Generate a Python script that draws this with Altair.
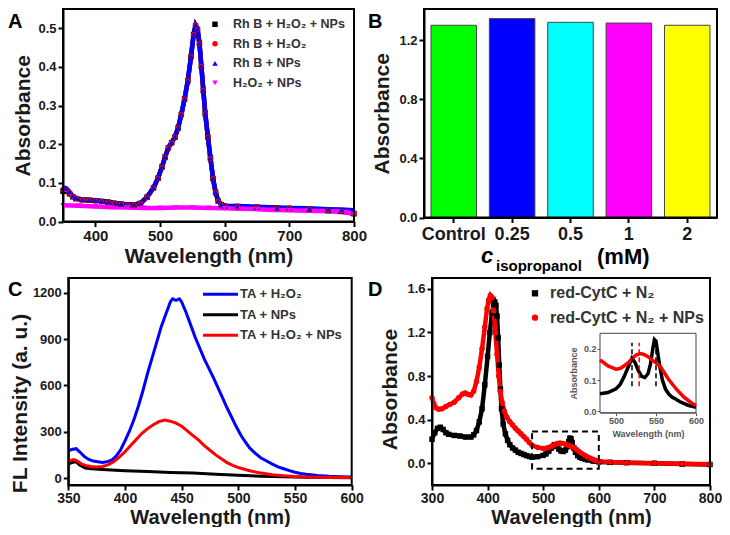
import altair as alt
import pandas as pd

W, H = 714, 519
FONT = "Liberation Sans"

# ---------------- Panel A : Rh B absorbance ----------------
a_wl = [350, 355, 360, 365, 370, 380, 390, 400, 410, 420, 430, 440, 450, 460, 470, 480, 490,
        497, 503, 508, 513, 518, 523, 528, 533, 538, 543, 548, 552, 555, 558, 561, 564, 567,
        570, 574, 578, 582, 586, 590, 595, 600, 620, 650, 680, 700, 730, 760, 780, 800]
a_black = [0.078, 0.080, 0.072, 0.064, 0.059, 0.056, 0.055, 0.054, 0.052, 0.050, 0.047, 0.045, 0.043,
           0.043, 0.047, 0.063, 0.087, 0.112, 0.141, 0.167, 0.191, 0.204, 0.218, 0.242, 0.277, 0.317,
           0.364, 0.427, 0.484, 0.506, 0.497, 0.461, 0.401, 0.339, 0.279, 0.219, 0.164, 0.111, 0.075,
           0.053, 0.043, 0.040, 0.039, 0.037, 0.035, 0.034, 0.032, 0.028, 0.026, 0.020]
a_red = [0.082, 0.083, 0.074, 0.065, 0.060, 0.056, 0.055, 0.054, 0.052, 0.050, 0.047, 0.045, 0.043,
         0.043, 0.047, 0.063, 0.087, 0.112, 0.141, 0.167, 0.191, 0.204, 0.218, 0.242, 0.277, 0.317,
         0.364, 0.427, 0.484, 0.507, 0.497, 0.461, 0.401, 0.339, 0.279, 0.219, 0.164, 0.111, 0.075,
         0.053, 0.043, 0.040, 0.039, 0.037, 0.035, 0.034, 0.033, 0.029, 0.027, 0.021]
a_blue = [0.088, 0.086, 0.077, 0.066, 0.061, 0.057, 0.056, 0.055, 0.053, 0.051, 0.048, 0.046, 0.044,
          0.044, 0.048, 0.064, 0.088, 0.113, 0.142, 0.168, 0.192, 0.205, 0.219, 0.243, 0.278, 0.318,
          0.365, 0.428, 0.485, 0.508, 0.498, 0.462, 0.402, 0.340, 0.280, 0.220, 0.165, 0.112, 0.076,
          0.054, 0.044, 0.041, 0.040, 0.038, 0.036, 0.035, 0.034, 0.032, 0.031, 0.029]
a_mag_wl = [350, 375, 400, 425, 450, 475, 500, 525, 550, 575, 600, 625, 650, 675, 700, 725, 750, 775, 790, 800]
a_mag = [0.042, 0.041, 0.039, 0.037, 0.036, 0.035, 0.035, 0.036, 0.036, 0.035, 0.034, 0.033, 0.032,
         0.030, 0.029, 0.028, 0.027, 0.026, 0.024, 0.019]
a_labels = ["Rh B + H₂O₂ + NPs", "Rh B + H₂O₂", "Rh B + NPs", "H₂O₂ + NPs"]
a_colors = ["#000000", "#ff0000", "#0000ff", "#ff00ff"]
a_shapes = ["square", "circle", "triangle-up", "triangle-down"]
a_xticks = [400, 500, 600, 700, 800]
a_yticks = [0.0, 0.1, 0.2, 0.3, 0.4, 0.5]

# ---------------- Panel B : isopropanol bars ----------------
b_cats = ["Control", "0.25", "0.5", "1", "2"]
b_vals = [1.30, 1.345, 1.32, 1.315, 1.30]
b_colors = ["#00ff00", "#0000ff", "#00ffff", "#ff00ff", "#ffff00"]
b_yticks = [0.0, 0.4, 0.8, 1.2]

# ---------------- Panel C : fluorescence ----------------
c_blue_wl = [350, 353, 357, 360, 364, 368, 372, 376, 380, 384, 388, 392, 396, 400, 404, 408, 412, 416,
             420, 424, 428, 432, 436, 440, 442, 445, 448, 450, 454, 458, 462, 466, 470, 474, 478, 482,
             486, 490, 494, 498, 502, 506, 510, 515, 520, 525, 530, 535, 540, 545, 550, 555, 560, 570,
             580, 590, 600]
c_blue = [175, 185, 190, 170, 140, 120, 110, 105, 100, 105, 115, 140, 180, 240, 305, 380, 470, 570,
          680, 780, 880, 980, 1060, 1140, 1160, 1150, 1160, 1140, 1070, 990, 910, 840, 770, 710, 650,
          585, 520, 455, 395, 335, 280, 235, 195, 160, 130, 110, 90, 72, 60, 48, 38, 30, 24, 16, 11, 8, 6]
c_red_wl = [350, 355, 358, 362, 366, 370, 375, 380, 385, 390, 395, 400, 405, 410, 415, 420, 425, 430,
            435, 440, 445, 450, 455, 460, 465, 470, 475, 480, 485, 490, 495, 500, 510, 520, 530, 540,
            550, 560, 580, 600]
c_red = [110, 120, 110, 90, 80, 75, 72, 75, 85, 105, 135, 170, 210, 250, 290, 320, 345, 365, 375, 368,
         355, 335, 305, 275, 245, 210, 180, 150, 125, 100, 82, 68, 47, 32, 22, 15, 10, 7, 4, 3]
c_black_wl = [350, 353, 357, 360, 365, 370, 380, 400, 420, 440, 460, 480, 500, 520, 540, 560, 580, 600]
c_black = [90, 100, 105, 85, 65, 60, 55, 48, 42, 36, 32, 25, 18, 12, 8, 5, 3, 2]
c_labels = ["TA + H₂O₂", "TA + NPs", "TA + H₂O₂ + NPs"]
c_colors = ["#0000ff", "#000000", "#ff0000"]
c_xticks = [350, 400, 450, 500, 550, 600]
c_yticks = [0, 300, 600, 900, 1200]

# ---------------- Panel D : cytochrome c ----------------
d_black_wl = [300, 305, 310, 315, 320, 325, 330, 340, 350, 360, 370, 375, 380, 385, 390, 395, 400,
              404, 408, 411, 413, 415, 417, 419, 421, 423, 425, 428, 432, 436, 440, 445, 450, 455,
              460, 465, 470, 475, 480, 490, 500, 505, 510, 515, 520, 524, 528, 532, 536, 540, 543,
              546, 548, 550, 552, 555, 558, 562, 566, 570, 575, 580, 590, 600, 620, 650, 700, 750, 800]
d_black = [0.22, 0.28, 0.32, 0.33, 0.31, 0.28, 0.265, 0.255, 0.25, 0.24, 0.24, 0.26, 0.30, 0.38, 0.50,
           0.72, 0.98, 1.20, 1.38, 1.46, 1.48, 1.45, 1.35, 1.15, 0.90, 0.68, 0.50, 0.36, 0.27, 0.21,
           0.17, 0.14, 0.12, 0.10, 0.09, 0.08, 0.07, 0.062, 0.056, 0.060, 0.072, 0.085, 0.11, 0.14,
           0.17, 0.155, 0.13, 0.112, 0.108, 0.12, 0.15, 0.20, 0.23, 0.225, 0.19, 0.14, 0.10, 0.07,
           0.055, 0.045, 0.038, 0.03, 0.019, 0.012, 0.008, 0.005, 0.0, -0.008, -0.012]
d_red_wl = [300, 303, 307, 312, 318, 325, 332, 340, 348, 355, 360, 365, 370, 375, 380, 385, 390, 395,
            399, 402, 405, 408, 411, 414, 417, 420, 423, 426, 430, 435, 440, 445, 450, 455, 460, 465,
            470, 475, 480, 490, 500, 505, 510, 515, 520, 525, 530, 535, 540, 545, 550, 555, 560, 565,
            570, 575, 580, 585, 590, 595, 600, 620, 650, 700, 750, 800]
d_red = [0.60, 0.55, 0.51, 0.495, 0.50, 0.52, 0.54, 0.56, 0.60, 0.635, 0.645, 0.63, 0.625, 0.66, 0.75,
         0.88, 1.05, 1.25, 1.42, 1.50, 1.54, 1.52, 1.40, 1.20, 1.00, 0.80, 0.66, 0.56, 0.48, 0.42,
         0.38, 0.35, 0.32, 0.295, 0.27, 0.245, 0.22, 0.19, 0.165, 0.145, 0.135, 0.137, 0.145, 0.155,
         0.168, 0.18, 0.185, 0.182, 0.175, 0.165, 0.155, 0.145, 0.125, 0.105, 0.088, 0.072, 0.058,
         0.045, 0.035, 0.025, 0.018, 0.01, 0.005, 0.0, -0.005, -0.01]
d_labels = ["red-CytC + N₂", "red-CytC + N₂ + NPs"]
d_colors = ["#000000", "#ff0000"]
d_shapes = ["square", "circle"]
d_xticks = [300, 400, 500, 600, 700, 800]
d_yticks = [0.0, 0.4, 0.8, 1.2, 1.6]
d_box_wl = [480, 600]
d_box_abs = [-0.05, 0.29]
inset_range = [480, 600]
inset_xticks = [500, 550, 600]
inset_yticks = [0.0, 0.1, 0.2]
inset_peak_wl = [520, 529, 550]
inset_peak_color = ["#000000", "#ff0000", "#000000"]
inset_peak_span = [0.08, 0.22]

# ---------------- layout (pixel geometry, chart coords) ----------------
PA = dict(x0=55, x1=346, y0=1, y1=213.5)
PB = dict(x0=416, x1=709, y0=1, y1=209.5)
PC = dict(x0=60.3, x1=343.7, y0=270, y1=477)
PD = dict(x0=424, x1=702, y0=270, y1=477)
PI = dict(x0=592, x1=688, y0=325.3, y1=404.7)

one = pd.DataFrame({"k": [0]})


def long_df(labels, colors, wls, vals):
    rows = []
    for lab, col, wl, vs in zip(labels, colors, wls, vals):
        for w, v in zip(wl, vs):
            rows.append({"series": lab, "col": col, "wl": w, "v": v})
    return pd.DataFrame(rows)


def xq(p, domain, ticks, size, title, tsize=21, **kw):
    return alt.X("wl:Q", scale=alt.Scale(domain=domain, range=[p["x0"], p["x1"]], nice=False, zero=False),
                 axis=alt.Axis(orient="bottom", offset=p["y1"] - H, values=ticks, labelFontSize=size,
                               title=title, titleFontSize=tsize, **kw))


def yq(p, domain, ticks, size, title, fmt, **kw):
    return alt.Y("v:Q", scale=alt.Scale(domain=domain, range=[p["y1"], p["y0"]], nice=False, zero=False),
                 axis=alt.Axis(orient="left", offset=-p["x0"], values=ticks, labelFontSize=size, format=fmt,
                               title=title, titleFontSize=21, **kw))


def frame(p, color="black", width=2, fill=None):
    m = alt.Chart(one).mark_rect(stroke=color, strokeWidth=width,
                                 fill=fill if fill else "white", fillOpacity=1 if fill else 0)
    return m.encode(x=alt.value(p["x0"]), x2=alt.value(p["x1"]), y=alt.value(p["y0"]), y2=alt.value(p["y1"]))


def txt(text, x, y, size, style="normal", align="left", baseline="alphabetic"):
    return alt.Chart(one).mark_text(text=text, font=FONT, fontSize=size, fontWeight="bold", fontStyle=style,
                                    align=align, baseline=baseline, color="black").encode(
        x=alt.value(x), y=alt.value(y))


# ----- Panel A chart -----
dfA = long_df(a_labels, a_colors, [a_wl, a_wl, a_wl, a_mag_wl], [a_black, a_red, a_blue, a_mag])
xA = xq(PA, [350, 800], a_xticks, 15, "Wavelength (nm)", titlePadding=2)
yA = yq(PA, [0, 0.55], a_yticks, 13, "Absorbance", ".1f", titlePadding=4)
legA = alt.Legend(orient="none", legendX=200.75, legendY=10.05, title=None, labelFontSize=12.5,
                  symbolSize=30, labelOffset=11.75, rowPadding=6.5, padding=0)
lineA = alt.Chart(dfA).mark_line(strokeWidth=4.5).encode(
    x=xA, y=yA, detail="series:N", color=alt.Color("col:N", scale=None))
ptsA = alt.Chart(dfA).mark_point(filled=True, size=30, opacity=1).encode(
    x=xA, y=yA,
    color=alt.Color("series:N", scale=alt.Scale(domain=a_labels, range=a_colors), legend=legA),
    shape=alt.Shape("series:N", scale=alt.Scale(domain=a_labels, range=a_shapes), legend=legA))
chartA = alt.layer(lineA, ptsA)

# ----- Panel B chart -----
dfB = pd.DataFrame({"cat": b_cats, "v": b_vals, "col": b_colors})
chartB = alt.Chart(dfB).mark_bar(stroke="#444444", strokeWidth=1).encode(
    x=alt.X("cat:N", sort=b_cats,
            scale=alt.Scale(range=[PB["x0"], PB["x1"]], paddingInner=0.22, paddingOuter=0.12),
            axis=alt.Axis(orient="bottom", offset=PB["y1"] - H, title=None, labelFontSize=18,
                          labelAngle=0, labelPadding=3)),
    y=yq(PB, [0, 1.41], b_yticks, 13, "Absorbance", ".1f", titlePadding=6),
    color=alt.Color("col:N", scale=None))

# ----- Panel C chart -----
dfC = long_df(c_labels, c_colors, [c_blue_wl, c_black_wl, c_red_wl], [c_blue, c_black, c_red])
legC = alt.Legend(orient="none", legendX=193.5, legendY=279.3, title=None, labelFontSize=13,
                  symbolType="stroke", symbolSize=1225, symbolStrokeWidth=3, labelOffset=0.5,
                  clipHeight=14, rowPadding=6.5, padding=0)
chartC = alt.Chart(dfC).mark_line(strokeWidth=3).encode(
    x=xq(PC, [350, 600], c_xticks, 14, "Wavelength (nm)", tsize=20, titleBaseline="alphabetic",
         titleY=515 - PC["y1"], labelPadding=1),
    y=yq(PC, [-45, 1295], c_yticks, 13, "FL Intensity (a. u.)", "d", titlePadding=2, titleY=395),
    color=alt.Color("series:N", scale=alt.Scale(domain=c_labels, range=c_colors), legend=legC))

# ----- Panel D chart -----
dfD = long_df(d_labels, d_colors, [d_black_wl, d_red_wl], [d_black, d_red])
xD = xq(PD, [300, 800], d_xticks, 14, "Wavelength (nm)", tsize=20, titleBaseline="alphabetic",
        titleY=515 - PD["y1"], labelPadding=1)
yD = yq(PD, [-0.2, 1.7], d_yticks, 13, "Absorbance", ".1f", titlePadding=6, titleY=381)
legD = alt.Legend(orient="none", legendX=519, legendY=277.3, title=None, labelFontSize=16,
                  symbolSize=40, labelOffset=7, rowPadding=8.4, padding=0)
lineD = alt.Chart(dfD).mark_line(strokeWidth=4.5).encode(
    x=xD, y=yD, detail="series:N", color=alt.Color("col:N", scale=None))
ptsD = alt.Chart(dfD).mark_point(filled=True, size=30, opacity=1).encode(
    x=xD, y=yD,
    color=alt.Color("series:N", scale=alt.Scale(domain=d_labels, range=d_colors), legend=legD),
    shape=alt.Shape("series:N", scale=alt.Scale(domain=d_labels, range=d_shapes), legend=legD))
dfBox = pd.DataFrame({"wl": [d_box_wl[0]], "wl2": [d_box_wl[1]], "v": [d_box_abs[0]], "v2": [d_box_abs[1]]})
boxD = alt.Chart(dfBox).mark_rect(fillOpacity=0, stroke="black", strokeWidth=2, strokeDash=[6, 4]).encode(
    x=xD, x2="wl2:Q", y=yD, y2="v2:Q")
chartD = alt.layer(lineD, ptsD, boxD)

# ----- Inset -----
dfI = dfD[(dfD["wl"] >= inset_range[0]) & (dfD["wl"] <= inset_range[1])]
inset_axis_style = dict(labelFontSize=9, labelColor="#555555", titleColor="#555555", titleFontSize=9,
                        domainWidth=1, domainColor="#555555", tickWidth=1, tickColor="#555555",
                        tickSize=3, labelPadding=1)
xI = alt.X("wl:Q", scale=alt.Scale(domain=inset_range, range=[PI["x0"], PI["x1"]], nice=False, zero=False),
           axis=alt.Axis(orient="bottom", offset=PI["y1"] - H, values=inset_xticks,
                         title="Wavelength (nm)", titlePadding=4, **inset_axis_style))
yI = alt.Y("v:Q", scale=alt.Scale(domain=[-0.005, 0.25], range=[PI["y1"], PI["y0"]], nice=False, zero=False),
           axis=alt.Axis(orient="left", offset=-PI["x0"], values=inset_yticks, format=".1f",
                         title="Absorbance", titlePadding=5, **inset_axis_style))
lineI = alt.Chart(dfI).mark_line(strokeWidth=3.5).encode(
    x=xI, y=yI, detail="series:N", color=alt.Color("col:N", scale=None))
dfPk = pd.DataFrame({"wl": inset_peak_wl, "c": inset_peak_color,
                     "v": [inset_peak_span[0]] * 3, "v2": [inset_peak_span[1]] * 3})
rulesI = alt.Chart(dfPk).mark_rule(strokeWidth=1.5, strokeDash=[5, 3]).encode(
    x=xI, y=yI, y2="v2:Q", color=alt.Color("c:N", scale=None))
chartI = alt.layer(lineI, rulesI)

# ----- texts -----
texts = [
    txt("A", 0, 20, 20),
    txt("B", 360, 20, 20),
    txt("C", 0, 288, 20),
    txt("D", 360, 288, 20),
    txt("c", 473, 255, 22, style="italic"),
    txt("isopropanol", 488, 263, 15),
    txt("(mM)", 589, 256, 22),
]

chart = alt.layer(
    chartA, chartB, chartC, chartD, frame(PI, color="#444444", width=1, fill="white"), chartI,
    frame(PA), frame(PB), frame(PC), frame(PD), *texts
).resolve_scale(
    x="independent", y="independent", color="independent", shape="independent"
).properties(
    width=W, height=H, autosize=alt.AutoSizeParams(type="none"), padding=0
).configure_view(stroke=None).configure_axis(
    grid=False, labelFont=FONT, titleFont=FONT, labelFontWeight="bold", titleFontWeight="bold",
    domainColor="black", domainWidth=2, tickColor="black", tickWidth=2, tickSize=5,
    labelColor="#1a1a1a", titleColor="#1a1a1a", labelFlush=False, labelOverlap=False, labelPadding=2
).configure_legend(
    labelFont=FONT, labelFontWeight="bold", labelColor="#333333"
)

chart.save("out.html", embed_options={"renderer": "svg", "actions": False})
